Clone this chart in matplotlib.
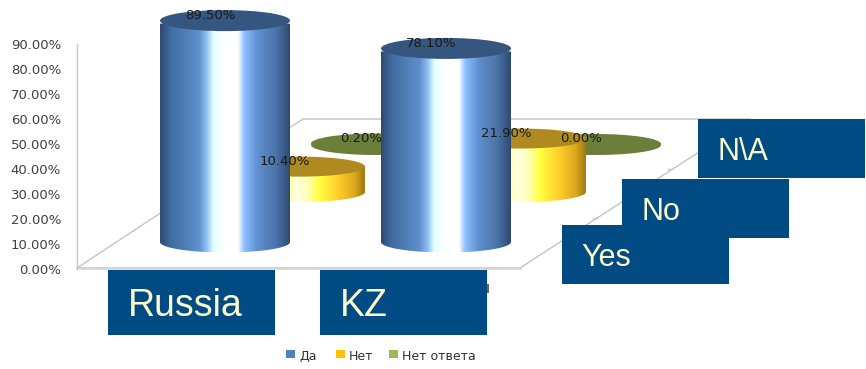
import numpy as np
import matplotlib as mpl
mpl.use('Agg')
import matplotlib.pyplot as plt
from matplotlib.colors import LinearSegmentedColormap
from matplotlib.patches import Ellipse, PathPatch, Rectangle
from matplotlib.path import Path

# survey answers in percent
countries = ['Russia', 'KZ']
yes_vals = [89.5, 78.1]
no_vals = [10.4, 21.9]
na_vals = [0.2, 0.0]
tick_vals = [0, 10, 20, 30, 40, 50, 60, 70, 80, 90]
answer_labels = ['Yes', 'No', 'N\\A']
legend_labels = ['Да', 'Нет', 'Нет ответа']

# pixel layout of the fake 3d scene
W, H = 866, 369
WALL_X, WALL_Y0, WALL_PX = 77, 268, 2.49
BAR_PX = 2.44
BAR_W = 130
BOX_BLUE = '#004b84'
BOX_TEXT = '#fdf9c8'
LINE = '#c4c4c4'

blue_grad = [(0, '#2d4a70'), (.08, '#3f6ca0'), (.3, '#5f90cc'), (.36, '#8fc3f5'), (.41, '#e4ffff'),
             (.5, '#ffffff'), (.6, '#ffffff'), (.65, '#8cc0ff'), (.75, '#6090d0'), (.9, '#4a72a8'), (1, '#2d4a70')]
yellow_grad = [(0, '#a07a10'), (.12, '#e0b020'), (.25, '#ffcc2a'), (.36, '#ffff40'), (.46, '#ffffe0'),
               (.55, '#ffffc0'), (.65, '#ffff40'), (.8, '#ffcc2a'), (.92, '#dca81e'), (1, '#a07a10')]
green_grad = [(0, '#6b7f3a'), (1, '#6b7f3a')]

# series: values, colour ramp, top colour, legend colour, left edges, base y, ellipse half height, top lift
series = [
    (na_vals, green_grad, '#6b7f3a', '#9bbb59', [311, 531], 145, 10, 1),
    (no_vals, yellow_grad, '#ae8a1f', '#ffc000', [235, 456], 192, 10, 0),
    (yes_vals, blue_grad, '#35567f', '#4f81bd', [160, 381], 242, 10.5, 3),
]

fig = plt.figure(figsize=(W / 100, H / 100), dpi=100)
ax = fig.add_axes([0, 0, 1, 1])


def cylinder(left, base, val, half_h, lift, ramp, top_col, z):
    top = base - val * BAR_PX
    cx = left + BAR_W / 2
    cmap = LinearSegmentedColormap.from_list('c', ramp)
    grad = np.linspace(0, 1, 256).reshape(1, -1)
    t = np.linspace(np.pi, 0, 60)
    arc_x = cx + BAR_W / 2 * np.cos(t)
    arc_y = base + half_h * np.sin(t)
    verts = [(left, top)] + list(zip(arc_x, arc_y)) + [(left + BAR_W, top), (left, top)]
    verts = np.array(verts)
    im = ax.imshow(grad, cmap=cmap, extent=(left, left + BAR_W, base + half_h + 1, top), aspect='auto',
                   zorder=z, interpolation='bilinear')
    clip = PathPatch(Path(verts), transform=ax.transData, fc='none', ec='none')
    ax.add_patch(clip)
    im.set_clip_path(clip)
    ax.add_patch(Ellipse((cx, top - lift), BAR_W, half_h * 2, fc=top_col, ec='none', zorder=z + .1))
    return cx, top - lift


# floor and wall
floor = [(WALL_X, WALL_Y0), (303, 119), (750, 119), (520, WALL_Y0), (WALL_X, WALL_Y0)]
ax.plot(*zip(*floor), color=LINE, lw=1, zorder=1)
ax.plot([WALL_X, 520], [WALL_Y0, WALL_Y0], color='#d4d4d4', lw=1.8, zorder=1)
ax.plot([WALL_X, WALL_X], [WALL_Y0, 44], color=LINE, lw=1, zorder=1)
ax.plot([668, 672], [169, 169], color=LINE, lw=1, zorder=1)
ax.plot([593, 597], [218, 218], color=LINE, lw=1, zorder=1)

for v in tick_vals:
    ax.text(61, WALL_Y0 - v * WALL_PX + 2, '%.2f%%' % v, ha='right', va='center', fontsize=9.5, color='#404040', zorder=2)

z = 3
labels = []
for vals, ramp, top_col, _, lefts, base, half_h, lift in series:
    for i in range(len(countries)):
        cx, top = cylinder(lefts[i], base, vals[i], half_h, lift, ramp, top_col, z)
        labels.append((cx - 15, top - 5, vals[i]))
    z += 1

for x, y, v in labels:
    ax.text(x, y, '%.2f%%' % v, ha='center', va='center', fontsize=9.5, color='#1a1a1a', zorder=10)

# bit of the hidden category label sticking out past the KZ box
ax.plot([487.5, 487.5], [285, 292], color='#666666', lw=1.5, zorder=2)

# text boxes laid over the axis labels
for name, x in zip(countries, [108, 320]):
    ax.add_patch(Rectangle((x, 270), 167, 65, fc=BOX_BLUE, ec='none', zorder=11))
    ax.text(x + 20, 306, name, fontsize=27, family='Liberation Sans', color=BOX_TEXT, va='center', zorder=12)

for name, x, y in zip(answer_labels, [562, 622, 698], [225, 179, 119]):
    box_z = 13 if name == 'Yes' else 11
    ax.add_patch(Rectangle((x, y), 167, 59, fc=BOX_BLUE, ec='none', zorder=box_z))
    ax.text(x + 19, y + 33, name, fontsize=22, family='Liberation Sans', color=BOX_TEXT, va='center', zorder=box_z + 1)

# legend
for s, name, x in zip(series[::-1], legend_labels, [286, 336, 389]):
    ax.add_patch(Rectangle((x, 350), 9, 8, fc=s[3], ec='none', zorder=5))
    ax.text(x + 13, 356, name, fontsize=9, color='#303030', va='center', zorder=5)

ax.set_xlim(0, W)
ax.set_ylim(H, 0)
ax.axis('off')
fig.savefig('out.png', dpi=100)
